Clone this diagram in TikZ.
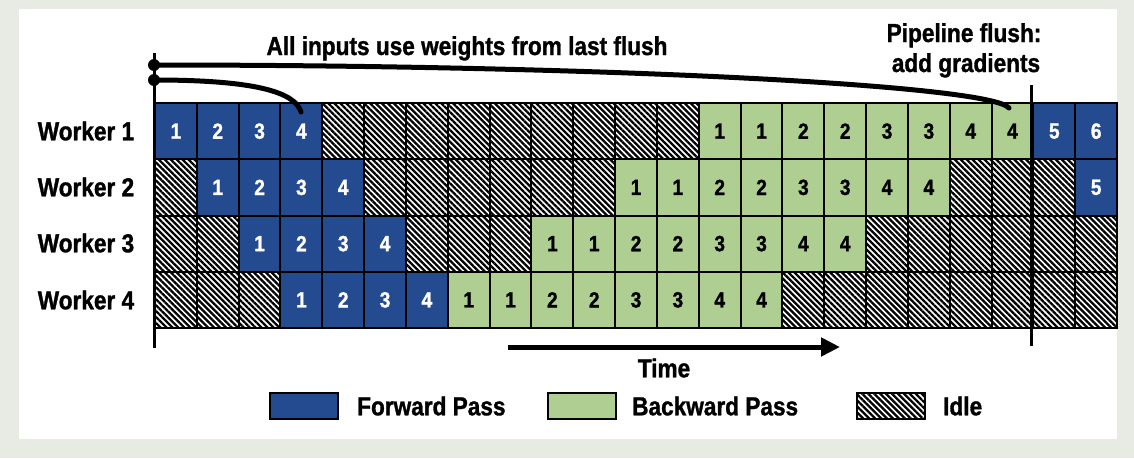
\documentclass[tikz,border=0pt]{standalone}
\usepackage{fontspec}
\setmainfont{Liberation Sans}[FakeStretch=0.87,BoldFeatures={FakeBold=1.2}]
\usetikzlibrary{patterns.meta,arrows.meta}
\definecolor{fwdblue}{RGB}{36,75,143}
\definecolor{bwdgreen}{RGB}{174,206,146}
\definecolor{bggray}{RGB}{232,235,228}

\begin{document}
\begin{tikzpicture}[x=1pt,y=-1pt,
  cell/.style={draw=black,line width=2pt,minimum width=41.83pt,minimum height=56.25pt,inner sep=0pt,font=\fontsize{22}{26}\selectfont\bfseries},
  fwd/.style={fill=fwdblue,text=white},
  bwd/.style={fill=bwdgreen},
  idle/.style={pattern={Lines[angle=-45,distance=4.2pt,line width=2.3pt]}},
  lab/.style={font=\fontsize{26}{30}\selectfont\bfseries,inner sep=0pt},
  dot/.style={circle,fill=black,minimum size=12pt,inner sep=0pt},
  key/.style={draw=black,line width=1.5pt,minimum width=68pt,minimum height=26pt,inner sep=0pt}]
\def\xo{155}\def\yo{103}\def\cw{41.83}\def\rh{56.25}

\useasboundingbox (0,0) rectangle (1134,458);
\fill[bggray] (0,0) rectangle (1134,458);
\fill[white] (19,9) rectangle (1117,439);

% forward passes
\foreach \r/\c/\t in {1/0/1,1/1/2,1/2/3,1/3/4,1/21/5,1/22/6,
  2/1/1,2/2/2,2/3/3,2/4/4,2/22/5,3/2/1,3/3/2,3/4/3,3/5/4,4/3/1,4/4/2,4/5/3,4/6/4}
  \node[cell,fwd] (w\r c\c) at ({\xo+\cw*(\c+0.5)},{\yo+\rh*(\r-0.5)}) {\t};

% backward passes
\foreach \r/\s in {1/13,2/11,3/9,4/7}
  \foreach \k/\t in {0/1,1/1,2/2,3/2,4/3,5/3,6/4,7/4}{
    \pgfmathtruncatemacro\c{\s+\k}
    \node[cell,bwd] (w\r c\c) at ({\xo+\cw*(\c+0.5)},{\yo+\rh*(\r-0.5)}) {\t};
  }

% idle slots
\foreach \r/\a/\b in {1/4/12,2/0/0,2/5/10,2/19/21,3/0/1,3/6/8,3/17/22,4/0/2,4/15/22}
  \foreach \c in {\a,...,\b}
    \node[cell,idle] (w\r c\c) at ({\xo+\cw*(\c+0.5)},{\yo+\rh*(\r-0.5)}) {};

\node[lab] (lab1) at (86,131) {Worker 1};
\node[lab] (lab2) at (86,187) {Worker 2};
\node[lab] (lab3) at (86,243) {Worker 3};
\node[lab] (lab4) at (86,300) {Worker 4};

% axis and flush line
\draw[line width=3pt] (154,53)--(154,348);
\draw[line width=3pt] (1031,85)--(1031,346);

\node[lab,anchor=base] (title) at (467,55) {All inputs use weights from last flush};
\node[lab,anchor=base] (flushA) at (964,42) {Pipeline flush:};
\node[lab,anchor=base] (flushB) at (966,72) {add gradients};

\node[dot] (dotA) at (154,65) {};
\node[dot] (dotB) at (154,80) {};
\coordinate (endA) at (1009,108);
\coordinate (endB) at (301,112);
\draw[line width=5pt,line cap=round] (dotA.center) .. controls (600,65) and (990,85) .. (endA);
\draw[line width=5pt,line cap=round] (dotB.center) .. controls (255,80) and (295,92) .. (endB);

% time
\coordinate (tstart) at (508,347);
\coordinate (tend) at (840,347);
\draw[line width=5pt,-{Triangle[length=19pt,width=18pt]}] (tstart)--(tend);
\node[lab] (time) at (664,368) {Time};

% legend
\node[key,fill=fwdblue] (keyF) at (304,406) {};
\node[lab,anchor=west] (txtF) at (357,406) {Forward Pass};
\node[key,fill=bwdgreen] (keyB) at (582,406) {};
\node[lab,anchor=west] (txtB) at (632,406) {Backward Pass};
\node[key,idle] (keyI) at (891,406) {};
\node[lab,anchor=west] (txtI) at (943,406) {Idle};

\end{tikzpicture}
\end{document}
